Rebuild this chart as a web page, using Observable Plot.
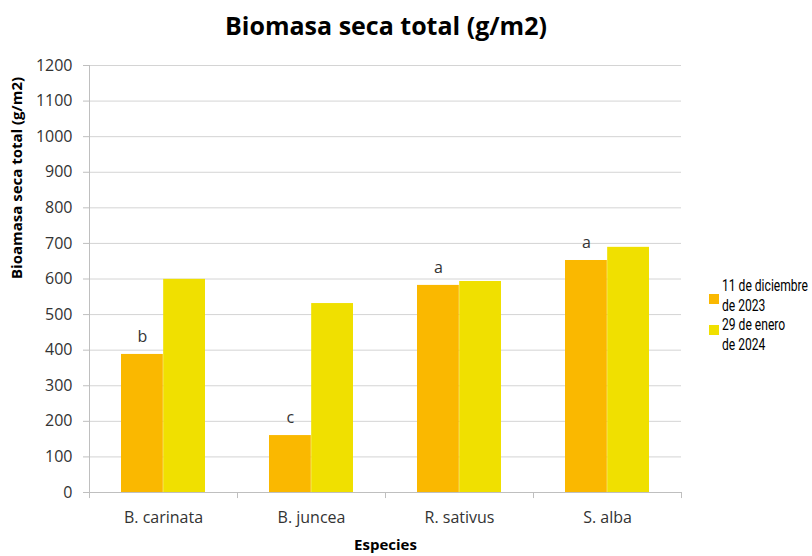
<!DOCTYPE html>
<html>
<head>
<meta charset="utf-8">
<script src="https://cdn.jsdelivr.net/npm/d3@7"></script>
<script src="https://cdn.jsdelivr.net/npm/@observablehq/plot@0.6"></script>
<style>
  html, body { margin: 0; padding: 0; background: #fff; overflow: hidden; width: 812px; height: 556px; }
  #wrap { position: relative; width: 812px; height: 556px; overflow: hidden; }
  #title { position: absolute; left: 0; top: 8px; width: 772px; text-align: center;
    font-family: "Open Sans", sans-serif; font-weight: 700; font-size: 25px; color: #000; }
  #chart { position: absolute; left: 0; top: 50px; }
  #legend { position: absolute; left: 709px; top: 276px; font-family: "Roboto", sans-serif;
    font-size: 16px; color: #000; line-height: 19.5px; white-space: nowrap; }
  .item { position: relative; padding-left: 13px; }
  .sw { position: absolute; left: 0; width: 10px; height: 10px; }
  .line { display: block; transform-origin: 0 50%; }
</style>
</head>
<body>
<div id="wrap">
  <div id="title">Biomasa seca total (g/m2)</div>
  <div id="chart"></div>
  <div id="legend"></div>
</div>
<script>
const species = ["B. carinata", "B. juncea", "R. sativus", "S. alba"];
const seriesNames = ["11 de diciembre\nde 2023", "29 de enero\nde 2024"];
const dic2023 = [388, 160, 582, 652];
const ene2024 = [599, 531, 593, 689];
const letters = ["b", "c", "a", "a"];
const yTicks = [0, 100, 200, 300, 400, 500, 600, 700, 800, 900, 1000, 1100, 1200];
const colors = ["#FAB800", "#F0E000"];

const rows1 = species.map((s, i) => ({species: s, value: dic2023[i], letter: letters[i]}));
const rows2 = species.map((s, i) => ({species: s, value: ene2024[i]}));

const W = 812, H = 506;
const mL = 89, mR = 131;
const step = (W - mL - mR) / species.length;
const bw = step * 0.57;
const half = bw / 2;
const axisGrey = "#bfbfbf";
const font = "'Open Sans', sans-serif";

const plot = Plot.plot({
  width: W,
  height: H,
  marginLeft: mL,
  marginRight: mR,
  marginTop: 15,
  marginBottom: 64,
  style: {fontFamily: font, background: "transparent", overflow: "visible"},
  x: {domain: species, paddingInner: 0.43, paddingOuter: 0.215},
  y: {domain: [0, 1200]},
  marks: [
    Plot.gridY(yTicks.filter(d => d > 0), {stroke: "#d4d4d4", strokeOpacity: 1}),
    Plot.barY(rows1, {x: "species", y: "value", fill: colors[0], insetRight: half}),
    Plot.barY(rows2, {x: "species", y: "value", fill: colors[1], insetLeft: half}),
    Plot.ruleY([0], {stroke: axisGrey}),
    Plot.ruleX([species[0]], {dx: -step / 2, y1: 0, y2: 1200, stroke: axisGrey}),
    Plot.ruleX(species, {dx: -step / 2, y1: 0, y2: -17, stroke: axisGrey}),
    Plot.ruleX([species[species.length - 1]], {dx: step / 2, y1: 0, y2: -17, stroke: axisGrey}),
    Plot.axisY({ticks: yTicks, tickSize: 6, tickPadding: 11, fontSize: 16, stroke: axisGrey, color: "#333", label: null, tickFormat: d => String(d)}),
    Plot.axisX({tickSize: 0, tickPadding: 19, fontSize: 16, color: "#333", label: null}),
    Plot.text(rows1, {x: "species", y: "value", text: "letter", dx: -half / 2, dy: -18, fontSize: 16, fill: "#333"}),
    Plot.text(["Bioamasa seca total (g/m2)"], {frameAnchor: "left", rotate: -90, dx: -72, fontSize: 15, fontWeight: "bold", fill: "#000"}),
    Plot.text(["Especies"], {frameAnchor: "bottom", dy: 57, fontSize: 15, fontWeight: "bold", fill: "#000"})
  ]
});
document.getElementById("chart").appendChild(plot);

const legend = document.getElementById("legend");
const ctx = document.createElement("canvas").getContext("2d");
ctx.font = "16px Roboto";
const sx = Math.min(69 / ctx.measureText("29 de enero").width,
                    86 / ctx.measureText("11 de diciembre").width);
const swTops = [18, 10];
seriesNames.forEach((name, i) => {
  const item = document.createElement("div");
  item.className = "item";
  const sw = document.createElement("span");
  sw.className = "sw";
  sw.style.top = swTops[i] + "px";
  sw.style.background = colors[i];
  item.appendChild(sw);
  name.split("\n").forEach(line => {
    const l = document.createElement("span");
    l.className = "line";
    l.textContent = line;
    l.style.transform = `scaleX(${sx})`;
    item.appendChild(l);
  });
  legend.appendChild(item);
});
</script>
</body>
</html>
